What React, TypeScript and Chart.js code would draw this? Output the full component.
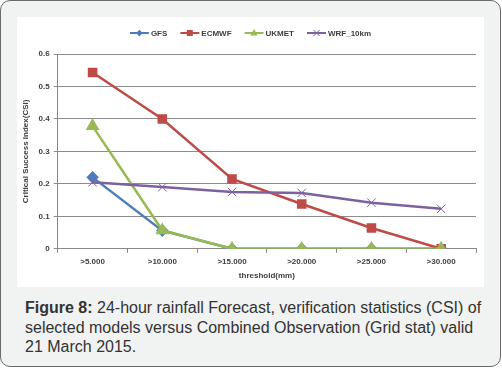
import React, { useEffect, useRef } from "react";
import { Chart, registerables } from "chart.js";

Chart.register(...registerables);

const categories = [">5.000", ">10.000", ">15.000", ">20.000", ">25.000", ">30.000"];
const gfs = [0.22, 0.056, 0, 0, 0, 0];
const ecmwf = [0.543, 0.4, 0.215, 0.138, 0.064, 0];
const ukmet = [0.378, 0.057, 0, 0, 0, 0];
const wrf = [0.205, 0.19, 0.175, 0.172, 0.142, 0.123];
const yTicks = [0, 0.1, 0.2, 0.3, 0.4, 0.5, 0.6];

const FONT = "'Liberation Sans', Arial, sans-serif";

function drawMarker(ctx: CanvasRenderingContext2D, style: string, x: number, y: number, r: number, color: string) {
  ctx.save();
  ctx.fillStyle = color;
  ctx.strokeStyle = color;
  ctx.lineWidth = 1;
  ctx.beginPath();
  if (style === "rectRot") {
    ctx.moveTo(x, y - r);
    ctx.lineTo(x + r, y);
    ctx.lineTo(x, y + r);
    ctx.lineTo(x - r, y);
    ctx.closePath();
    ctx.fill();
  } else if (style === "rect") {
    ctx.rect(x - r * 0.8, y - r * 0.8, r * 1.6, r * 1.6);
    ctx.fill();
  } else if (style === "triangle") {
    ctx.moveTo(x, y - r);
    ctx.lineTo(x + r * 0.9, y + r * 0.6);
    ctx.lineTo(x - r * 0.9, y + r * 0.6);
    ctx.closePath();
    ctx.fill();
  } else {
    ctx.moveTo(x - r * 0.7, y - r * 0.7);
    ctx.lineTo(x + r * 0.7, y + r * 0.7);
    ctx.moveTo(x + r * 0.7, y - r * 0.7);
    ctx.lineTo(x - r * 0.7, y + r * 0.7);
    ctx.stroke();
  }
  ctx.restore();
}

const legendPlugin = {
  id: "excelLegend",
  afterDraw(chart: any) {
    const ctx = chart.ctx;
    const dsets = chart.data.datasets;
    ctx.save();
    ctx.font = `bold 8px ${FONT}`;
    const lineLen = 19;
    const gapText = 2;
    const gapItem = 13;
    const widths = dsets.map((d: any) => lineLen + gapText + ctx.measureText(d.label).width);
    const total = widths.reduce((a: number, b: number) => a + b, 0) + gapItem * (dsets.length - 1);
    let x = chart.width / 2 - total / 2;
    const y = 16;
    dsets.forEach((d: any, i: number) => {
      ctx.strokeStyle = d.borderColor;
      ctx.lineWidth = 2;
      ctx.beginPath();
      ctx.moveTo(x, y);
      ctx.lineTo(x + lineLen, y);
      ctx.stroke();
      drawMarker(ctx, d.pointStyle, x + lineLen / 2, y, d.pointRadius * 0.75, d.borderColor);
      ctx.fillStyle = "#404040";
      ctx.textBaseline = "middle";
      ctx.textAlign = "left";
      ctx.fillText(d.label, x + lineLen + gapText, y + 0.5);
      x += widths[i] + gapItem;
    });
    ctx.restore();
  },
};

export default function App() {
  const ref = useRef<HTMLCanvasElement | null>(null);

  useEffect(() => {
    document.body.style.margin = "0";
    if (!ref.current) return;
    const chart = new Chart(ref.current, {
      type: "line",
      data: {
        labels: categories,
        datasets: [
          {
            label: "GFS",
            data: gfs,
            borderColor: "#4a7ebb",
            backgroundColor: "#4a7ebb",
            pointStyle: "rectRot",
            pointRadius: 4.5,
            borderWidth: 2.5,
            order: 3,
          },
          {
            label: "ECMWF",
            data: ecmwf,
            borderColor: "#be4b48",
            backgroundColor: "#be4b48",
            pointStyle: "rect",
            pointRadius: 5,
            borderWidth: 2.5,
            order: 2,
          },
          {
            label: "UKMET",
            data: ukmet,
            borderColor: "#98b954",
            backgroundColor: "#98b954",
            pointStyle: "triangle",
            pointRadius: 5.5,
            borderWidth: 2.5,
            order: 1,
          },
          {
            label: "WRF_10km",
            data: wrf,
            borderColor: "#7d60a0",
            backgroundColor: "#7d60a0",
            pointStyle: "crossRot",
            pointRadius: 6,
            pointBorderWidth: 1,
            borderWidth: 2.5,
            order: 0,
          },
        ],
      },
      options: {
        responsive: false,
        animation: false,
        layout: { padding: { top: 37, right: 3, left: 4, bottom: 6 } },
        plugins: {
          legend: { display: false },
          tooltip: { enabled: false },
        },
        elements: { line: { tension: 0 } },
        scales: {
          x: {
            offset: true,
            grid: {
              offset: true,
              drawOnChartArea: false,
              drawTicks: true,
              tickLength: 4,
              color: "#888888",
            },
            border: { color: "#888888", width: 1 },
            ticks: {
              color: "#404040",
              font: { family: FONT, size: 8, weight: "bold" },
              padding: 4,
              maxRotation: 0,
            },
            title: {
              display: true,
              text: "threshold(mm)",
              color: "#404040",
              font: { family: FONT, size: 8, weight: "bold" },
              padding: { top: 1, bottom: 0 },
            },
          },
          y: {
            min: 0,
            max: 0.6,
            afterBuildTicks: (scale: any) => {
              scale.ticks = yTicks.map((v) => ({ value: v }));
            },
            grid: {
              color: "#8c8c8c",
              tickLength: 4,
              lineWidth: 1,
            },
            border: { color: "#888888", width: 1 },
            ticks: {
              color: "#404040",
              font: { family: FONT, size: 8, weight: "bold" },
              padding: 4,
              callback: (v: any) => (Number(v) === 0 ? "0" : Number(v).toFixed(1)),
            },
            title: {
              display: true,
              text: "Critical Success Index(CSI)",
              color: "#404040",
              font: { family: FONT, size: 8, weight: "bold" },
              padding: { top: 0, bottom: 4 },
            },
          },
        },
      },
      plugins: [legendPlugin],
    });
    return () => chart.destroy();
  }, []);

  return (
    <div
      style={{
        position: "absolute",
        left: 0,
        top: 0,
        width: 499,
        height: 365,
        background: "#f1f2f2",
        border: "1.5px solid #6a6a6a",
        borderRadius: 10,
        boxSizing: "content-box",
      }}
    >
      <div style={{ position: "absolute", left: 16, top: 16, width: 467, height: 270, background: "#ffffff" }}>
        <canvas ref={ref} width={467} height={270} style={{ display: "block" }} />
      </div>
      <div
        style={{
          position: "absolute",
          left: 24,
          top: 297,
          width: 458,
          fontFamily: FONT,
          fontSize: 16,
          lineHeight: "19.5px",
          color: "#333333",
        }}
      >
        <b>Figure 8:</b> 24-hour rainfall Forecast, verification statistics (CSI) of selected models versus Combined
        Observation (Grid stat) valid 21 March 2015.
      </div>
    </div>
  );
}
